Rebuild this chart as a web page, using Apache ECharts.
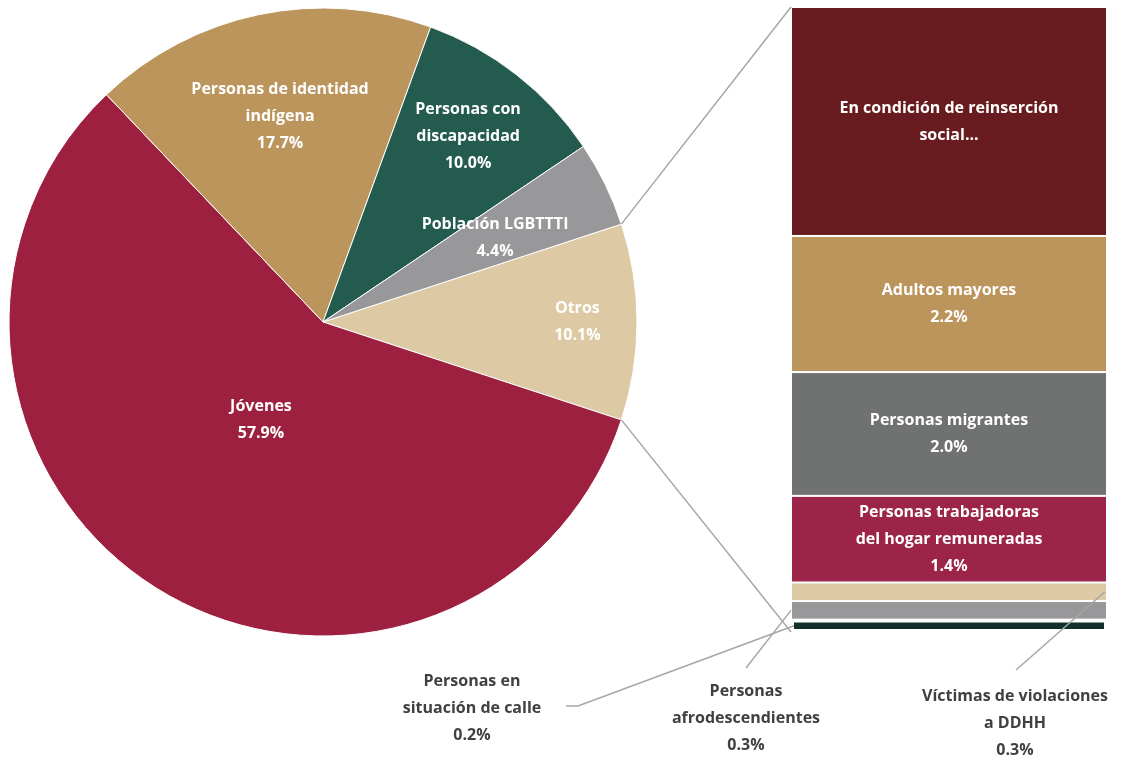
<!DOCTYPE html>
<html>
<head>
<meta charset="utf-8">
<script src="https://cdn.jsdelivr.net/npm/echarts@6/dist/echarts.min.js"></script>
<style>
    html, body { margin: 0; padding: 0; background: #fff; }
    #chart { width: 1133px; height: 762px; }
</style>
</head>
<body>
<div id="chart"></div>
<script>
    // pie slices, clockwise from the top edge of "Otros"
    const pieNames = ['Otros', 'Jóvenes', 'Personas de identidad\nindígena', 'Personas con\ndiscapacidad', 'Población LGBTTTI']
    const pieValues = [10.1, 57.9, 17.7, 10.0, 4.4]
    const pieColors = ['#DDC9A3', '#9D2040', '#BC955C', '#235B4E', '#98989A']

    // breakdown of "Otros", bottom to top
    const barNames = ['Personas en\nsituación de calle', 'Personas\nafrodescendientes', 'Víctimas de violaciones\na DDHH',
        'Personas trabajadoras\ndel hogar remuneradas', 'Personas migrantes', 'Adultos mayores', 'En condición de reinserción\nsocial...']
    const barValues = [0.2, 0.3, 0.3, 1.4, 2.0, 2.2, 3.7]
    const barColors = ['#10312B', '#98989A', '#DDC9A3', '#9D2449', '#6F7271', '#BC955C', '#691C20']

    const font = '"Open Sans", sans-serif'
    const center = [323, 322]
    const radius = 314
    const total = pieValues.reduce((a, b) => a + b, 0)
    const startAngle = pieValues[0] / total * 180
    // how far out (fraction of radius) each pie label sits
    const labelDist = [0.81, 0.37, 0.67, 0.75, 0.61]

    const grid = {left: 791, top: 7, width: 316, height: 625}
    const barMax = barValues.reduce((a, b) => a + b, 0)

    function sliceAngles(i) {
        let a0 = startAngle
        for (let k = 0; k < i; k++) a0 -= pieValues[k] / total * 360
        return [a0, a0 - pieValues[i] / total * 360]
    }

    function polar(deg, r) {
        const t = deg * Math.PI / 180
        return [center[0] + r * Math.cos(t), center[1] - r * Math.sin(t)]
    }

    const chart = echarts.init(document.getElementById('chart'))

    const barSeries = barValues.map((v, i) => {
        const big = i >= 3
        return {
            name: barNames[i],
            type: 'bar',
            stack: 'otros',
            barWidth: '100%',
            data: [v],
            z: i === 0 ? 3 : 2,
            itemStyle: {
                color: barColors[i],
                borderColor: '#fff',
                borderWidth: i === 0 ? 3 : 1
            },
            label: {
                show: big,
                position: 'inside',
                color: '#fff',
                fontFamily: font,
                fontWeight: 'bold',
                fontSize: 16,
                lineHeight: 27,
                formatter: i === 6 ? barNames[i] : barNames[i] + '\n' + v.toFixed(1) + '%'
            },
            silent: true
        }
    })

    chart.setOption({
        animation: false,
        grid: grid,
        xAxis: {type: 'category', data: ['Otros'], show: false},
        yAxis: {type: 'value', min: 0, max: barMax, show: false},
        series: [
            {
                type: 'pie',
                center: center,
                radius: radius,
                startAngle: startAngle,
                clockwise: true,
                silent: true,
                data: pieNames.map((n, i) => ({
                    name: n,
                    value: pieValues[i],
                    itemStyle: {color: pieColors[i]}
                })),
                itemStyle: {borderColor: '#fff', borderWidth: 1},
                label: {
                    position: 'inside',
                    color: '#fff',
                    fontFamily: font,
                    fontWeight: 'bold',
                    fontSize: 16,
                    lineHeight: 27,
                    formatter: p => p.name + '\n' + p.value.toFixed(1) + '%'
                },
                labelLine: {show: false},
                labelLayout: p => {
                    const a = sliceAngles(p.dataIndex)
                    const pt = polar((a[0] + a[1]) / 2, radius * labelDist[p.dataIndex])
                    return {x: pt[0], y: pt[1], align: 'center', verticalAlign: 'middle'}
                }
            }
        ].concat(barSeries)
    })

    // connector lines and outside labels for the small segments
    const barL = grid.left
    const barR = grid.left + grid.width
    const yAt = v => chart.convertToPixel({yAxisIndex: 0}, v)
    const otrosEdge = sliceAngles(0)
    const pTop = polar(otrosEdge[0], radius)
    const pBot = polar(otrosEdge[1], radius)

    const lineStyle = {stroke: '#A6A6A6', lineWidth: 1.5}
    const textStyle = {
        fill: '#404040', font: 'bold 16px ' + font, align: 'center', verticalAlign: 'top', lineHeight: 27
    }
    let cum = [0]
    barValues.forEach(v => cum.push(cum[cum.length - 1] + v))
    const mid = i => yAt((cum[i] + cum[i + 1]) / 2)

    chart.setOption({
        graphic: [
            {type: 'polyline', z: 100, shape: {points: [pTop, [barL, yAt(barMax)]]}, style: lineStyle, silent: true},
            {type: 'polyline', z: 100, shape: {points: [pBot, [barL, yAt(0)]]}, style: lineStyle, silent: true},
            {type: 'polyline', z: 100, shape: {points: [[barL + 3, mid(0)], [578, 706], [566, 706]]}, style: lineStyle, silent: true},
            {type: 'polyline', z: 100, shape: {points: [[barL, mid(1)], [746, 668]]}, style: lineStyle, silent: true},
            {type: 'polyline', z: 100, shape: {points: [[barR - 2, mid(2)], [1016, 670]]}, style: lineStyle, silent: true},
            {type: 'text', z: 100, x: 472, y: 668, style: Object.assign({text: barNames[0] + '\n' + barValues[0].toFixed(1) + '%'}, textStyle)},
            {type: 'text', z: 100, x: 746, y: 678, style: Object.assign({text: barNames[1] + '\n' + barValues[1].toFixed(1) + '%'}, textStyle)},
            {type: 'text', z: 100, x: 1015, y: 683, style: Object.assign({text: barNames[2] + '\n' + barValues[2].toFixed(1) + '%'}, textStyle)}
        ]
    })
</script>
</body>
</html>
